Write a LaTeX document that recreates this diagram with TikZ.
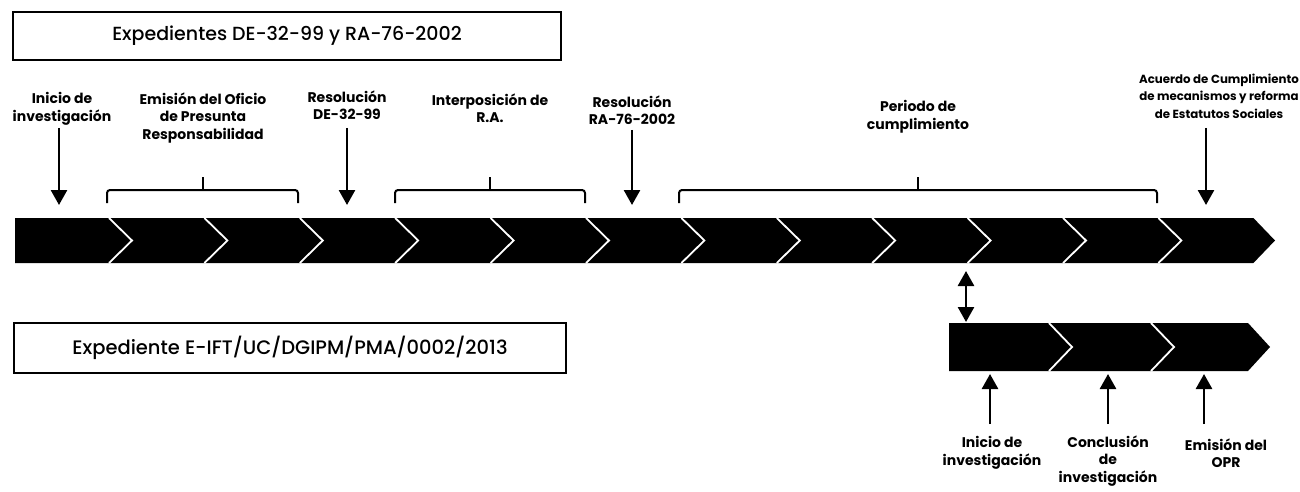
\documentclass[tikz,border=0pt]{standalone}
\usepackage{fontspec}
\setmainfont{Poppins}
\newfontfamily\ttlfont{Poppins}[UprightFont=*-Medium]
\usetikzlibrary{arrows.meta}
\begin{document}
\begin{tikzpicture}[x=1pt,y=-1pt,
 lbl/.style={font=\fontsize{14}{17.5}\selectfont\bfseries, align=center, inner sep=0pt},
 lblsm/.style={lbl, font=\fontsize{11.8}{17.5}\selectfont\bfseries},
 ttl/.style={draw=black, line width=2pt, inner sep=0pt, font=\ttlfont\fontsize{19}{22}\selectfont},
 bk/.style={line width=2pt, rounded corners=3pt},
 arr/.style={line width=2.6pt, -{Triangle[width=16pt,length=15pt]}},
 darr/.style={line width=2.6pt, {Triangle[width=16pt,length=15pt]}-{Triangle[width=16pt,length=15pt]}},
 notch/.style={white, line width=1.8pt},
 barfill/.style={fill=black}]
\useasboundingbox (0,0) rectangle (1300,492);

% title boxes
\node[ttl, minimum width=548pt, minimum height=48pt] (t1) at (287,36) {Expedientes DE-32-99 y RA-76-2002};
\node[ttl, minimum width=552pt, minimum height=50pt, font=\ttlfont\fontsize{19.5}{22}\selectfont] (t2) at (290,348) {Expediente E-IFT/UC/DGIPM/PMA/0002/2013};

% main chevron bar
\fill[barfill] (15,218) -- (1253.4,218) -- (1275,240.5) -- (1253.4,263) -- (15,263) -- cycle;
\foreach \k in {0,...,11}{
  \pgfmathsetmacro\xx{109+95.4*\k}
  \draw[notch] (\xx,218) -- ({\xx+23},240.5) -- (\xx,263);
}

% lower chevron bar
\fill[barfill] (949,323) -- (1248,323) -- (1270,347) -- (1248,371) -- (949,371) -- cycle;
\foreach \xx in {1049,1151}{
  \draw[notch] (\xx,323) -- ({\xx+23},347) -- (\xx,371);
}

% top labels
\node[lbl] (l1) at (62,109) {Inicio de\\investigación};
\node[lbl] (l2) at (203,118) {Emisión del Oficio\\de Presunta\\Responsabilidad};
\node[lbl] (l3) at (347,105) {Resolución\\DE-32-99};
\node[lbl] (l4) at (490,108) {Interposición de\\R.A.};
\node[lbl] (l5) at (632,110) {Resolución\\RA-76-2002};
\node[lbl] (l6) at (918,117) {Periodo de\\cumplimiento};
\node[lblsm] (l7) at (1219,96) {Acuerdo de Cumplimiento\\de mecanismos y reforma\\de Estatutos Sociales};

% bottom labels
\node[lbl] (b1) at (992,453) {Inicio de\\investigación};
\node[lbl] (b2) at (1108,461) {Conclusión\\de\\investigación};
\node[lbl] (b3) at (1226,453) {Emisión del\\OPR};

% arrow end points
\coordinate (a1s) at (59,128);   \coordinate (a1e) at (59,205);
\coordinate (a3s) at (347,128);  \coordinate (a3e) at (347,205);
\coordinate (a5s) at (632,130);  \coordinate (a5e) at (632,205);
\coordinate (a7s) at (1206,128); \coordinate (a7e) at (1206,205);
\draw[arr] (a1s) -- (a1e);
\draw[arr] (a3s) -- (a3e);
\draw[arr] (a5s) -- (a5e);
\draw[arr] (a7s) -- (a7e);

\coordinate (u1s) at (990,424);  \coordinate (u1e) at (990,374);
\coordinate (u2s) at (1108,424); \coordinate (u2e) at (1108,374);
\coordinate (u3s) at (1204,424); \coordinate (u3e) at (1204,374);
\draw[arr] (u1s) -- (u1e);
\draw[arr] (u2s) -- (u2e);
\draw[arr] (u3s) -- (u3e);

\coordinate (dA) at (966,271); \coordinate (dB) at (966,322);
\draw[darr] (dA) -- (dB);

% brackets
\coordinate (k2) at (203,177); \coordinate (k4) at (490,177); \coordinate (k6) at (918,177);
\draw[bk] (107,203) |- (298,190) -- (298,203);
\draw[line width=2pt] (k2) -- (203,190);
\draw[bk] (395,203) |- (585,190) -- (585,203);
\draw[line width=2pt] (k4) -- (490,190);
\draw[bk] (679,203) |- (1157,190) -- (1157,203);
\draw[line width=2pt] (k6) -- (918,190);
\end{tikzpicture}
\end{document}
